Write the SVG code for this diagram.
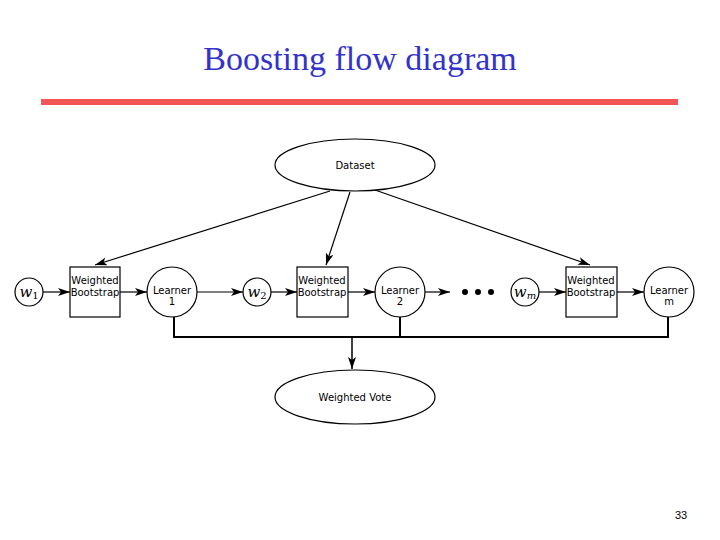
<svg xmlns="http://www.w3.org/2000/svg" width="720" height="540" viewBox="0 0 720 540">
<style>
.s{fill:#fff;stroke:#000;stroke-width:1.2}
.t{font-family:"DejaVu Sans",sans-serif;font-size:10px;fill:#000}
.w{font-family:"DejaVu Serif",serif;font-style:italic;font-size:15px;fill:#000}
.c line,.c path{stroke:#000;stroke-width:1.2;fill:none}
</style>
<defs><marker id="a" viewBox="0 0 12 8" refX="12" refY="4" markerWidth="12" markerHeight="8" orient="auto" markerUnits="userSpaceOnUse"><path d="M0,0 L12,4 L0,8 L3,4 z" fill="#000"/></marker></defs>
<rect width="720" height="540" fill="#fff"/>
<text x="360" y="70" text-anchor="middle" font-family="Liberation Serif,serif" font-size="34" fill="#3333cc">Boosting flow diagram</text>
<rect x="41" y="99" width="637" height="6" fill="#f25555"/>
<g class="c">
<line x1="330" y1="191" x2="95" y2="265" marker-end="url(#a)"/>
<line x1="350" y1="192" x2="326" y2="265" marker-end="url(#a)"/>
<line x1="375" y1="190" x2="590" y2="265" marker-end="url(#a)"/>
<line x1="43" y1="292" x2="70" y2="292" marker-end="url(#a)"/>
<line x1="120" y1="292" x2="147" y2="292" marker-end="url(#a)"/>
<line x1="197" y1="292" x2="243" y2="292" marker-end="url(#a)"/>
<line x1="271" y1="292" x2="297" y2="292" marker-end="url(#a)"/>
<line x1="348" y1="292" x2="375" y2="292" marker-end="url(#a)"/>
<line x1="425" y1="292" x2="450" y2="292" marker-end="url(#a)"/>
<line x1="539" y1="292" x2="566" y2="292" marker-end="url(#a)"/>
<line x1="617" y1="292" x2="644" y2="292" marker-end="url(#a)"/>
<path d="M174,317 V337 H668 V317 M400,317 V337" style="stroke-width:2"/>
<line x1="352" y1="337" x2="352" y2="369" marker-end="url(#a)" style="stroke-width:1.5"/>
</g>
<g id="dataset"><ellipse class="s" cx="355" cy="165" rx="80" ry="26"/><text class="t" x="355" y="169" text-anchor="middle">Dataset</text></g>
<g id="vote"><ellipse class="s" cx="355" cy="397" rx="80" ry="27"/><text class="t" x="355" y="401" text-anchor="middle">Weighted Vote</text></g>
<g id="w1"><circle class="s" cx="29" cy="292" r="14"/><text class="w" x="29" y="297" text-anchor="middle">w<tspan font-size="10" font-style="normal" dy="2">1</tspan></text></g>
<g id="w2"><circle class="s" cx="257" cy="292" r="14"/><text class="w" x="257" y="297" text-anchor="middle">w<tspan font-size="10" font-style="normal" dy="2">2</tspan></text></g>
<g id="wm"><circle class="s" cx="525" cy="292" r="14"/><text class="w" x="525" y="297" text-anchor="middle">w<tspan font-size="10" dy="2">m</tspan></text></g>
<g id="b1"><rect class="s" x="70" y="267" width="50" height="50"/><text class="t" x="95" y="284" text-anchor="middle" font-size="9.5">Weighted</text><text class="t" x="95" y="296" text-anchor="middle" font-size="9.5">Bootstrap</text></g>
<g id="b2"><rect class="s" x="297" y="267" width="51" height="50"/><text class="t" x="322" y="284" text-anchor="middle" font-size="9.5">Weighted</text><text class="t" x="322" y="296" text-anchor="middle" font-size="9.5">Bootstrap</text></g>
<g id="b3"><rect class="s" x="566" y="267" width="51" height="50"/><text class="t" x="591" y="284" text-anchor="middle" font-size="9.5">Weighted</text><text class="t" x="591" y="296" text-anchor="middle" font-size="9.5">Bootstrap</text></g>
<g id="l1"><circle class="s" cx="172" cy="292" r="25"/><text class="t" x="172" y="294" text-anchor="middle">Learner</text><text class="t" x="172" y="305" text-anchor="middle">1</text></g>
<g id="l2"><circle class="s" cx="400" cy="292" r="25"/><text class="t" x="400" y="294" text-anchor="middle">Learner</text><text class="t" x="400" y="305" text-anchor="middle">2</text></g>
<g id="lm"><circle class="s" cx="669" cy="292" r="25"/><text class="t" x="669" y="294" text-anchor="middle">Learner</text><text class="t" x="669" y="305" text-anchor="middle">m</text></g>
<g id="dots"><circle cx="465" cy="292" r="3"/><circle cx="478" cy="292" r="3"/><circle cx="491" cy="292" r="3"/></g>
<text x="681" y="519" text-anchor="middle" font-family="Liberation Sans,sans-serif" font-size="11">33</text>
</svg>
